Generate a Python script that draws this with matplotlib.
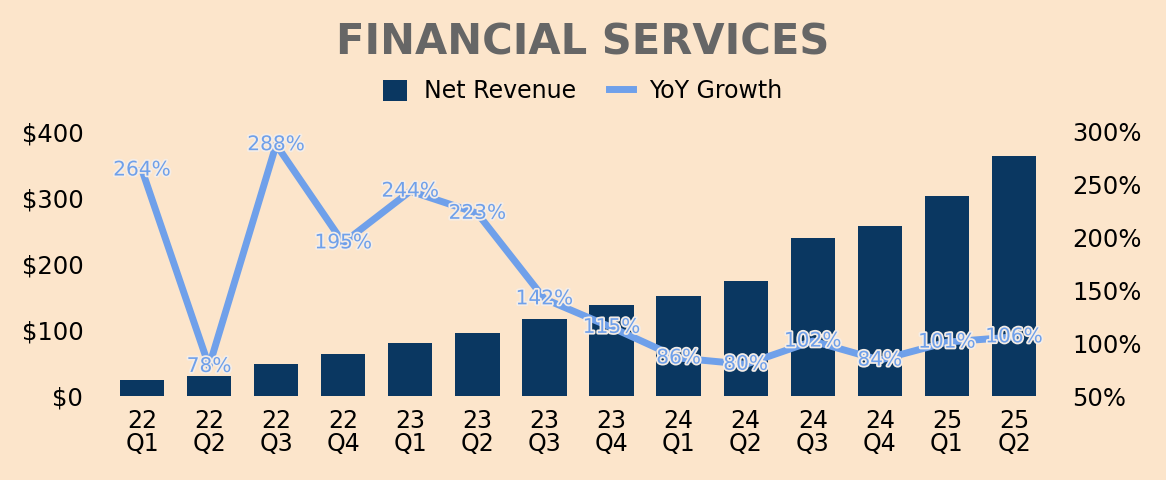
import numpy as np
import matplotlib.pyplot as plt
import matplotlib.patheffects as pe

quarters = ['22\nQ1', '22\nQ2', '22\nQ3', '22\nQ4', '23\nQ1', '23\nQ2', '23\nQ3',
            '23\nQ4', '24\nQ1', '24\nQ2', '24\nQ3', '24\nQ4', '25\nQ1', '25\nQ2']
net_revenue = [24, 30, 48, 63, 80, 96, 117, 138, 151, 175, 239, 258, 303, 364]
yoy_growth = [264, 78, 288, 195, 244, 223, 142, 115, 86, 80, 102, 84, 101, 106]

bg = '#FCE5CB'
bar_color = '#0A3761'
line_color = '#6FA0EA'

plt.rcParams['font.family'] = ['DejaVu Sans']

fig = plt.figure(figsize=(11.66, 4.8), dpi=100, facecolor=bg)
ax = fig.add_axes([100 / 1166, 84 / 480, 956 / 1166, 264 / 480])
ax.set_facecolor(bg)

x = np.arange(len(quarters))
ax.bar(x, net_revenue, width=0.66, color=bar_color, label='Net Revenue', zorder=2)
ax.set_ylim(0, 400)
ax.set_yticks([0, 100, 200, 300, 400])
ax.set_yticklabels(['$%d' % v for v in [0, 100, 200, 300, 400]])
ax.set_xlim(-0.626, 13.626)
ax.set_xticks(x)
ax.set_xticklabels(quarters, linespacing=1.0)
ax.tick_params(axis='y', length=0, labelsize=17.5, pad=12)
ax.tick_params(axis='x', length=0, labelsize=17, pad=9)
for s in ax.spines.values():
    s.set_visible(False)

ax2 = ax.twinx()
ax2.plot(x, yoy_growth, color=line_color, linewidth=5, label='YoY Growth', zorder=3)
ax2.set_ylim(50, 300)
ax2.set_yticks([50, 100, 150, 200, 250, 300])
ax2.set_yticklabels(['%d%%' % v for v in [50, 100, 150, 200, 250, 300]])
ax2.tick_params(length=0, labelsize=17.5, pad=11.5)
for s in ax2.spines.values():
    s.set_visible(False)

for xi, g in zip(x, yoy_growth):
    ax2.text(xi, g, '%d%%' % g, ha='center', va='center', fontsize=14.5,
             color=line_color, zorder=4, clip_on=False,
             path_effects=[pe.withStroke(linewidth=2.5, foreground='#F5EDE6')])

fig.text(0.5, 0.912, 'FINANCIAL SERVICES', ha='center', va='center',
         fontsize=30, fontweight='bold', color='#666666')

h1, l1 = ax.get_legend_handles_labels()
h2, l2 = ax2.get_legend_handles_labels()
fig.legend(h1 + h2, l1 + l2, loc='center', bbox_to_anchor=(0.5, 0.81), ncol=2,
           frameon=False, fontsize=17, handlelength=1.0, handleheight=1.0,
           columnspacing=1.4, handletextpad=0.72)

fig.savefig('out.png', dpi=100, facecolor=bg)
